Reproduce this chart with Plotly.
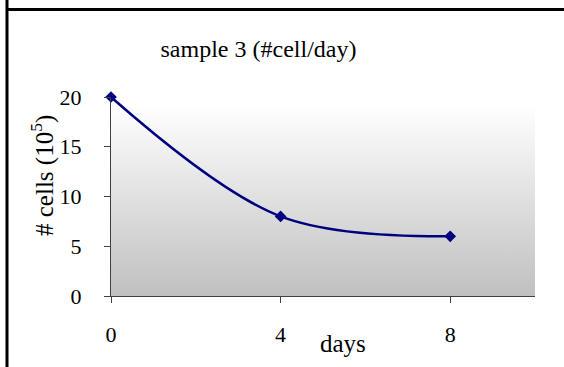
import plotly.graph_objects as go

days = [0, 4, 8]
cells = [20, 8, 6]
x_ticks = [0, 4, 8]
y_ticks = [0, 5, 10, 15, 20]
title_text = "sample 3 (#cell/day)"
x_title = "days"
y_title = "# cells (10<sup>5</sup>)"

W, H = 564, 367
L, R, T, B = 111, 29, 97, 71
pw, ph = W - L - R, H - T - B

def px(x):
    return (x - L) / pw

def py(y):
    return (H - B - y) / ph

FONT = "Liberation Serif"
NAVY = "#000080"

fig = go.Figure()

# plot-area gradient background
fig.add_trace(go.Scatter(
    x=[0, 10, 10, 0, 0], y=[0, 0, 19.2, 19.2, 0],
    fill="toself", mode="none", hoverinfo="skip", showlegend=False,
    fillgradient=dict(type="vertical",
                      colorscale=[[0, "#c0c0c0"], [1, "#ffffff"]]),
))

fig.add_trace(go.Scatter(
    x=days, y=cells, mode="lines+markers",
    line=dict(color=NAVY, width=2.5, shape="spline", smoothing=1),
    marker=dict(symbol="diamond", size=9, color=NAVY),
    showlegend=False, cliponaxis=False,
))

fig.update_layout(
    width=W, height=H,
    margin=dict(l=L, r=R, t=T, b=B),
    paper_bgcolor="white", plot_bgcolor="white",
    font=dict(family=FONT, color="black", size=22),
    title=dict(text=title_text, xref="container", yref="container",
               x=258.5 / W, y=1 - 49 / H, xanchor="center", yanchor="middle",
               font=dict(family=FONT, size=24, color="black")),
    xaxis=dict(range=[0, 10], tickvals=x_ticks, showgrid=False, zeroline=False,
               showline=True, linecolor="#404040", linewidth=1,
               ticks="outside", ticklen=6, tickcolor="#404040",
               ticklabelstandoff=13, tickfont=dict(size=22)),
    yaxis=dict(range=[0, 20], tickvals=y_ticks, showgrid=False, zeroline=False,
               showline=True, linecolor="#404040", linewidth=1,
               ticks="outside", ticklen=6, tickcolor="#404040",
               ticklabelstandoff=18, tickfont=dict(size=22)),
    annotations=[
        dict(text=x_title, xref="paper", yref="paper", x=px(343), y=py(343),
             xanchor="center", yanchor="middle", showarrow=False,
             font=dict(family=FONT, size=25)),
        dict(text=y_title, xref="paper", yref="paper", x=px(42), y=py(176),
             xanchor="center", yanchor="middle", showarrow=False, textangle=-90,
             font=dict(family=FONT, size=25)),
    ],
    shapes=[
        dict(type="line", xref="paper", yref="paper",
             x0=px(7), x1=px(7), y0=py(0), y1=py(H),
             line=dict(color="black", width=3)),
        dict(type="line", xref="paper", yref="paper",
             x0=px(7), x1=px(W), y0=py(9.5), y1=py(9.5),
             line=dict(color="black", width=3)),
    ],
)

fig.write_html("out.html")
